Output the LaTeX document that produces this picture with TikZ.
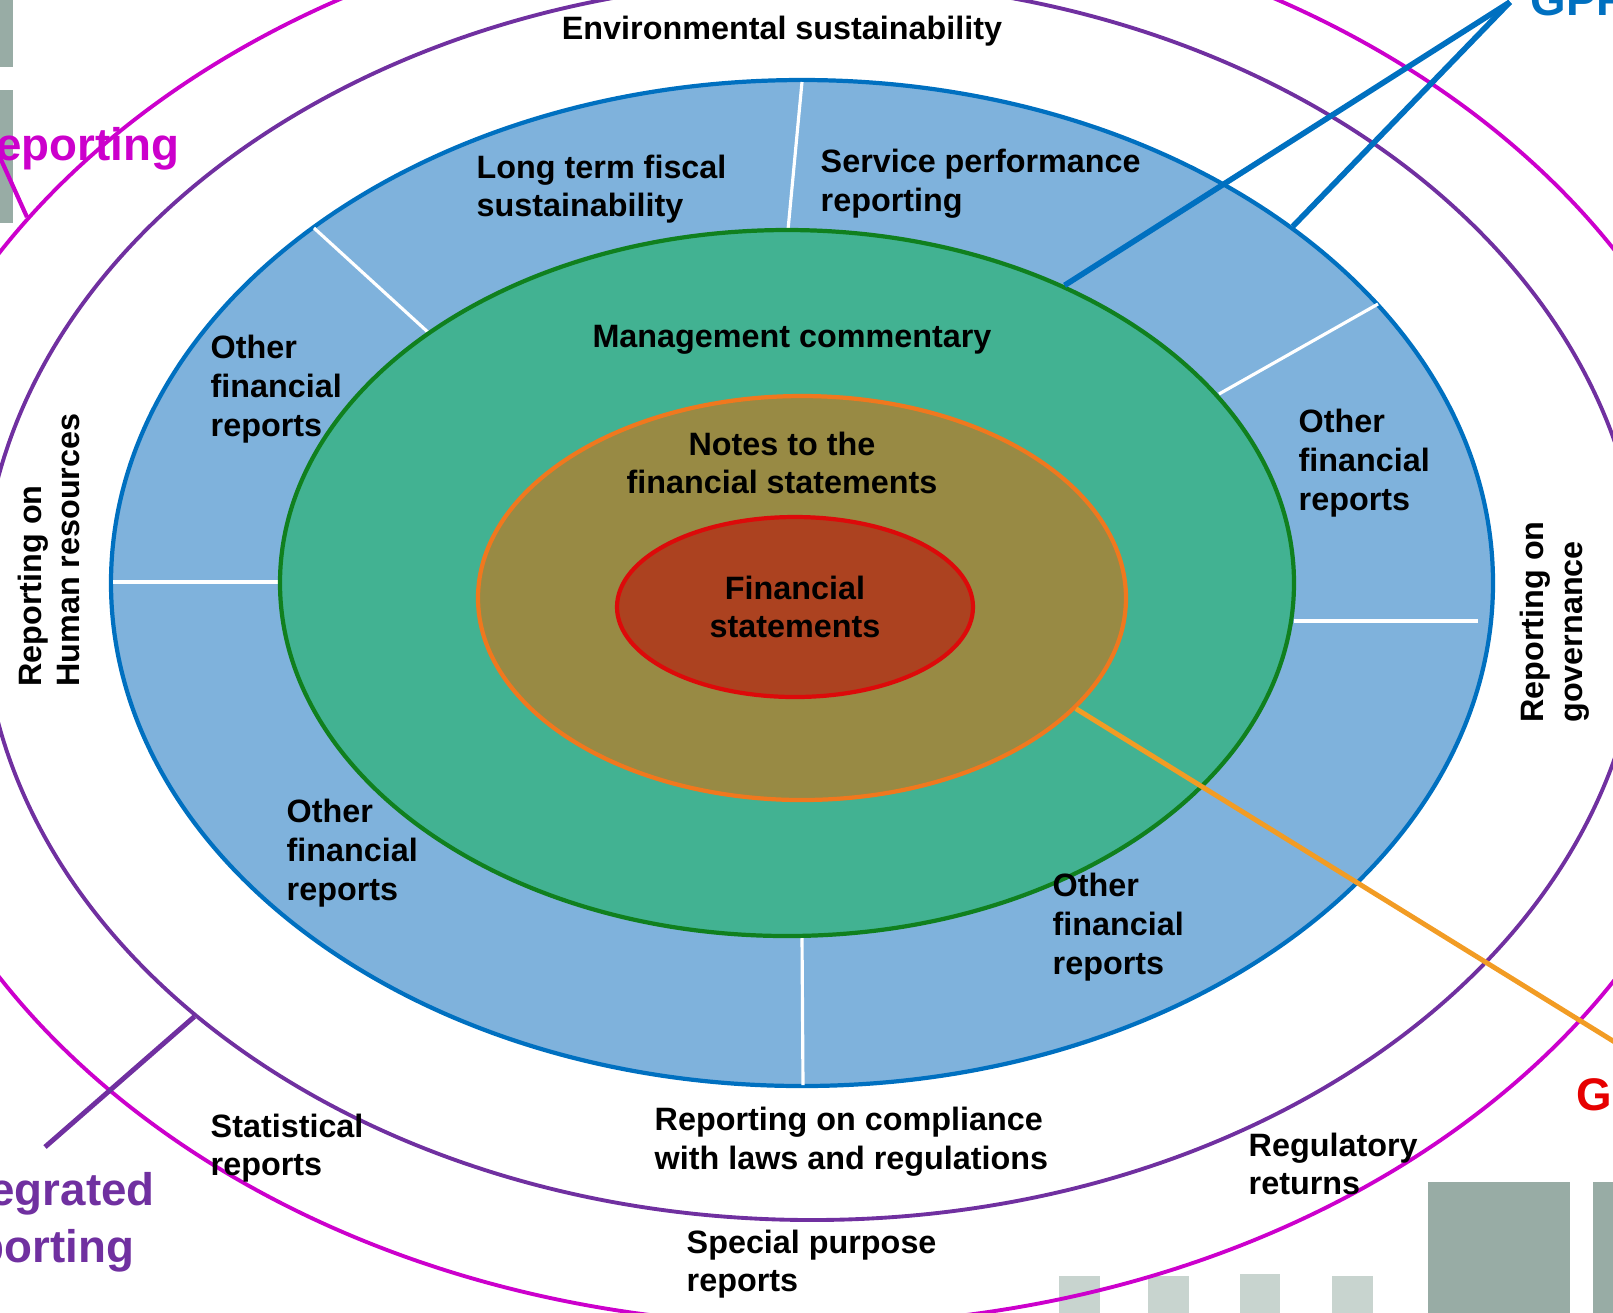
\documentclass[tikz,border=0pt]{standalone}
\usepackage{fontspec}
\setmainfont{Liberation Sans}
\usetikzlibrary{shapes.geometric, positioning}
\definecolor{ringBlue}{RGB}{127,178,220}
\definecolor{ringBlueLine}{RGB}{0,112,192}
\definecolor{ringGreen}{RGB}{66,178,146}
\definecolor{ringGreenLine}{RGB}{16,128,30}
\definecolor{notesFill}{RGB}{152,138,68}
\definecolor{notesLine}{RGB}{240,120,30}
\definecolor{fsFill}{RGB}{172,66,32}
\definecolor{fsLine}{RGB}{220,10,10}
\definecolor{intPurple}{RGB}{112,48,160}
\definecolor{widerPink}{RGB}{204,0,204}
\definecolor{linkOrange}{RGB}{242,156,36}
\definecolor{gpfsRed}{RGB}{230,0,0}
\definecolor{barGray}{RGB}{152,172,165}
\definecolor{barLight}{RGB}{200,212,207}

\begin{document}
\begin{tikzpicture}[
    ring/.style={ellipse, draw, line width=1.2pt, inner sep=0pt},
    outline/.style={ellipse, draw, line width=1.1pt, inner sep=0pt},
    label/.style={font=\bfseries\fontsize{9.2}{11}\selectfont, align=left, inner sep=0pt},
    tag/.style={font=\bfseries\fontsize{13}{16}\selectfont, inner sep=0pt},
    divider/.style={white, line width=0.9pt},
    link/.style={line width=1.6pt}
]
\useasboundingbox (0,0) rectangle (16.13,-13.12);

% bars of the slide behind
\fill[barGray] (0,0) rectangle (0.13,-0.67);
\fill[barGray] (0,-0.90) rectangle (0.13,-2.23);
\fill[barLight] (10.59,-12.76) rectangle (11.00,-13.3);
\fill[barLight] (11.48,-12.76) rectangle (11.89,-13.3);
\fill[barLight] (12.40,-12.74) rectangle (12.80,-13.3);
\fill[barLight] (13.32,-12.76) rectangle (13.73,-13.3);
\fill[barGray] (14.28,-11.82) rectangle (15.70,-13.3);
\fill[barGray] (15.93,-11.82) rectangle (16.40,-13.3);

% outer rings
\node[outline, draw=widerPink, minimum width=18.8cm, minimum height=14.2cm] (wider) at (8.08,-6.15) {};
\node[outline, draw=intPurple, minimum width=16.6cm, minimum height=12.4cm] (integrated) at (8.12,-6.00) {};

% filled rings
\node[ring, draw=ringBlueLine, fill=ringBlue, minimum width=13.82cm, minimum height=10.06cm] (otherrep) at (8.02,-5.83) {};
\draw[divider] (8.02,-0.82) -- (7.88,-2.30);
\draw[divider] (3.14,-2.28) -- (4.30,-3.34);
\draw[divider] (1.13,-5.82) -- (2.80,-5.82);
\draw[divider] (12.19,-3.94) -- (13.78,-3.04);
\draw[divider] (12.94,-6.21) -- (14.78,-6.21);
\draw[divider] (8.02,-9.36) -- (8.03,-10.85);
\node[ring, draw=ringGreenLine, fill=ringGreen, minimum width=10.14cm, minimum height=7.06cm] (mcomm) at (7.87,-5.83) {};
\node[ring, draw=notesLine, fill=notesFill, minimum width=6.48cm, minimum height=4.04cm] (notesring) at (8.02,-5.98) {};
\node[ring, draw=fsLine, fill=fsFill, minimum width=3.56cm, minimum height=1.80cm,
      font=\bfseries\fontsize{9.2}{11}\selectfont, align=center] (fsring) at (7.95,-6.07) {Financial\\statements};

% labels in the rings
\node[label] (env) at (7.82,-0.31) {Environmental sustainability};
\node[label, anchor=west] (ltfs) at (4.76,-1.89) {Long term fiscal\\sustainability};
\node[label, anchor=west] (spr) at (8.20,-1.84) {Service performance\\reporting};
\node[label, anchor=west] (ofrA) at (2.10,-3.89) {Other\\financial\\reports};
\node[label, anchor=west] (ofrB) at (12.98,-4.63) {Other\\financial\\reports};
\node[label, anchor=west] (ofrC) at (2.86,-8.53) {Other\\financial\\reports};
\node[label, anchor=west] (ofrD) at (10.52,-9.27) {Other\\financial\\reports};
\node[label, align=center] (mc) at (7.92,-3.40) {Management commentary};
\node[label, align=center] (notes) at (7.82,-4.63) {Notes to the\\financial statements};
\node[label, anchor=west] (comp) at (6.54,-11.42) {Reporting on compliance\\with laws and regulations};
\node[label, anchor=west] (spec) at (6.86,-12.64) {Special purpose\\reports};
\node[label, anchor=west] (reg) at (12.48,-11.64) {Regulatory\\returns};
\node[label, anchor=west] (stat) at (2.10,-11.48) {Statistical\\reports};
\node[label, rotate=90] (hr) at (0.49,-5.50) {Reporting on\\Human resources};
\node[label, rotate=90] (gov) at (15.55,-6.22) {Reporting on\\governance};

% tags round the edge
\node[tag, text=ringBlueLine, anchor=base west] (gpfrs) at (15.30,-0.15) {GPFRs};
\node[tag, text=gpfsRed, anchor=base west] (gpfs) at (15.76,-11.10) {GPFS};
\node[tag, text=widerPink, anchor=base east] (widerrep) at (1.80,-1.60) {reporting};
\node[tag, text=intPurple, align=left, anchor=base west] (intrep) at (-0.67,-12.62) {Integrated\\reporting};

% pointers
\coordinate (gpfrtip) at (15.10,-0.02);
\coordinate (gpfstip) at (16.60,-10.70);
\coordinate (inttip) at (0.45,-11.47);
\coordinate (widertip) at (-0.02,-1.53);
\draw[link, ringBlueLine] (gpfrtip) -- (mcomm.47);
\draw[link, ringBlueLine] (gpfrtip) -- (otherrep.36);
\draw[link, linkOrange, line width=1.4pt] (notesring.-22) -- (gpfstip);
\draw[link, intPurple, line width=1.4pt] (integrated.214) -- (inttip);
\draw[link, widerPink, line width=1.2pt] (widertip) -- (wider.153);
\end{tikzpicture}
\end{document}
